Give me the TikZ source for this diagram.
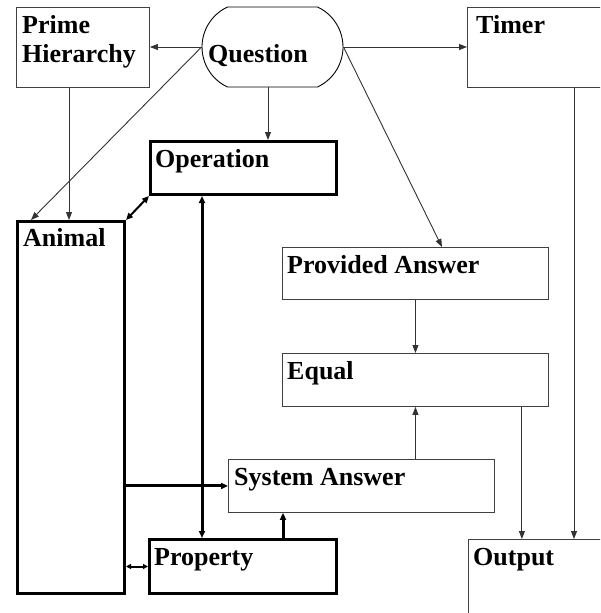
\documentclass[tikz,border=0pt]{standalone}
\usepackage{fontspec}
\setmainfont{Liberation Serif}
\usetikzlibrary{arrows.meta,shapes.misc,calc}
\begin{document}
\begin{tikzpicture}[x=1pt,y=-1pt,
  thinbox/.style={draw=black!75,line width=0.9pt,rectangle,anchor=north west,inner sep=0pt},
  thickbox/.style={draw=black,line width=3pt,rectangle,anchor=north west,inner sep=0pt},
  lbl/.style={font=\bfseries\fontsize{26}{29}\selectfont,inner sep=0pt,anchor=base west,align=left},
  arr/.style={draw=black!80,line width=0.9pt,-{Triangle[length=8pt,width=6pt]}},
  thickarr/.style={line width=3pt,-{Triangle[length=7pt,width=6pt]}},
  dblarr/.style={line width=2pt,{Triangle[length=7pt,width=6pt]}-{Triangle[length=7pt,width=6pt]}}
]
\clip (0,0) rectangle (600,613);
\fill[white] (0,0) rectangle (600,613);
% boxes
\node[thinbox,minimum width=133pt,minimum height=80pt] (ph) at (16,7) {};
\node[draw=black,line width=0.9pt,rounded rectangle,rounded rectangle arc length=130,minimum width=141pt,minimum height=80pt,inner sep=0pt] (q) at (272.5,47) {};
\node[thinbox,minimum width=160pt,minimum height=80pt] (tm) at (467,7) {};
\node[thickbox,minimum width=186pt,minimum height=53pt] (op) at (149,140) {};
\node[thickbox,minimum width=107pt,minimum height=372pt] (an) at (16,220) {};
\node[thinbox,minimum width=266pt,minimum height=52pt] (pa) at (282,247) {};
\node[thinbox,minimum width=266pt,minimum height=53pt] (eq) at (282,353) {};
\node[thinbox,minimum width=266pt,minimum height=53pt] (sa) at (228,459) {};
\node[thickbox,minimum width=187pt,minimum height=54pt] (pr) at (148,538) {};
\node[thinbox,minimum width=160pt,minimum height=100pt] (out) at (468,539) {};
% labels
\node[lbl] (phl) at ([xshift=6pt,yshift=-55pt]ph.north west) {Prime\\Hierarchy};
\node[lbl] (ql) at (208,62) {Question};
\node[lbl] (tml) at ([xshift=9pt,yshift=-26pt]tm.north west) {Timer};
\node[lbl] (opl) at ([xshift=6pt,yshift=-27pt]op.north west) {Operation};
\node[lbl] (anl) at ([xshift=7pt,yshift=-26pt]an.north west) {Animal};
\node[lbl] (pal) at ([xshift=5pt,yshift=-26pt]pa.north west) {Provided Answer};
\node[lbl] (eql) at ([xshift=5pt,yshift=-26pt]eq.north west) {Equal};
\node[lbl] (sal) at ([xshift=6pt,yshift=-26pt]sa.north west) {System Answer};
\node[lbl] (prl) at ([xshift=6pt,yshift=-27pt]pr.north west) {Property};
\node[lbl] (outl) at ([xshift=5pt,yshift=-26pt]out.north west) {Output};
% connectors
\draw[arr] (q.west) -- (ph.east |- q.west);
\draw[arr] (q.east) -- (tm.west |- q.east);
\draw[arr] ([xshift=-4.5pt]q.south) -- ([xshift=-4.5pt]q.south |- op.north);
\draw[arr] (q.west) -- ([xshift=15pt]an.north west);
\draw[arr] ([xshift=53pt]ph.south west) -- ([xshift=53pt]ph.south west |- an.north);
\draw[arr] (q.east) -- ([xshift=160pt]pa.north west);
\draw[arr] (pa.south) -- (eq.north);
\draw[arr] (eq.south |- sa.north) -- (eq.south);
\draw[arr] ([xshift=-27pt]eq.south east) -- ([xshift=-27pt]eq.south east |- out.north);
\draw[arr] ([xshift=107pt]tm.south west) -- ([xshift=107pt]tm.south west |- out.north);
\draw[dblarr] (an.north east) -- (op.south west);
\draw[line width=3pt,{Triangle[length=7pt,width=6pt]}-{Triangle[length=7pt,width=6pt]}] ([xshift=53pt]op.south west) -- ([xshift=53pt]op.south west |- pr.north);
\draw[thickarr] (an.east |- sa.west) -- (sa.west);
\draw[thickarr] ([xshift=135pt]pr.north west) -- ([xshift=135pt]pr.north west |- sa.south);
\draw[line width=2pt,{Triangle[length=5pt,width=5pt]}-{Triangle[length=5pt,width=5pt]}] (pr.west) -- (pr.west -| an.east);
\end{tikzpicture}
\end{document}
